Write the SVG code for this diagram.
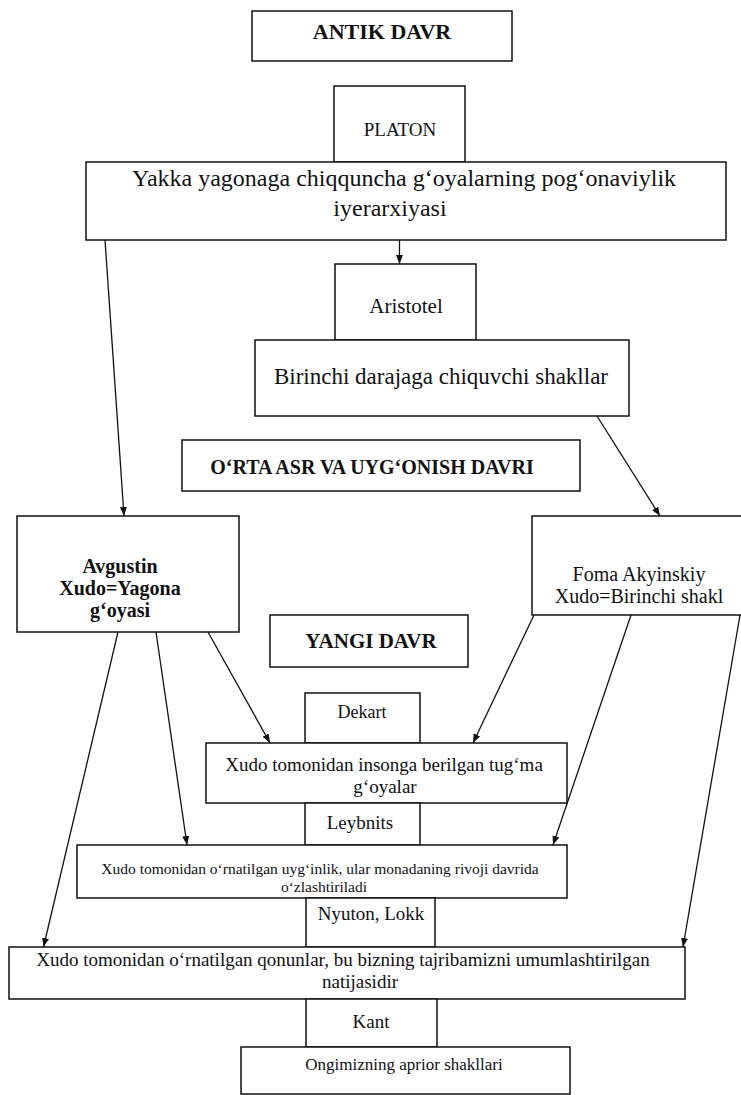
<svg xmlns="http://www.w3.org/2000/svg" width="741" height="1095" viewBox="0 0 741 1095">
<style>
.box{fill:#fff;stroke:#111;stroke-width:1.5}
.t{font-family:"Liberation Serif","Times New Roman",serif;fill:#111;text-anchor:middle}
.b{font-weight:bold}
.conn{stroke:#111;stroke-width:1.3;fill:none;marker-end:url(#ah)}
</style>
<defs>
<marker id="ah" markerUnits="userSpaceOnUse" markerWidth="10" markerHeight="8" refX="9" refY="3.5" orient="auto">
<path d="M0,0 L9,3.5 L0,7 z" fill="#111"/>
</marker>
</defs>
<rect width="741" height="1095" fill="#fff"/>
<g id="antik">
<rect class="box" x="252" y="11" width="260" height="50"/>
<text class="t b" x="382" y="39" font-size="22">ANTIK DAVR</text>
</g>
<g id="platon">
<rect class="box" x="334" y="86" width="131" height="76"/>
<text class="t" x="400" y="136" font-size="19">PLATON</text>
</g>
<g id="yakka">
<rect class="box" x="86" y="162" width="640" height="78"/>
<text class="t" x="404" y="186" font-size="24">Yakka yagonaga chiqquncha g‘oyalarning pog‘onaviylik</text>
<text class="t" x="390" y="216" font-size="24">iyerarxiyasi</text>
</g>
<g id="aristotel">
<rect class="box" x="335" y="264" width="141" height="76"/>
<text class="t" x="406" y="313" font-size="21">Aristotel</text>
</g>
<g id="birinchi">
<rect class="box" x="255" y="340" width="374" height="76"/>
<text class="t" x="441" y="384" font-size="23">Birinchi darajaga chiquvchi shakllar</text>
</g>
<g id="orta">
<rect class="box" x="182" y="440" width="398" height="51"/>
<text class="t b" x="372" y="474" font-size="20">O‘RTA ASR VA UYG‘ONISH DAVRI</text>
</g>
<g id="avgustin">
<rect class="box" x="17" y="516" width="222" height="116"/>
<text class="t b" x="120" y="573" font-size="20">Avgustin</text>
<text class="t b" x="120" y="595" font-size="20">Xudo=Yagona</text>
<text class="t b" x="120" y="617" font-size="20">g‘oyasi</text>
</g>
<g id="foma">
<rect class="box" x="532" y="516" width="212" height="99"/>
<text class="t" x="639" y="581" font-size="20">Foma Akyinskiy</text>
<text class="t" x="639" y="603" font-size="20">Xudo=Birinchi shakl</text>
</g>
<g id="yangi">
<rect class="box" x="270" y="615" width="198" height="52"/>
<text class="t b" x="371" y="648" font-size="21">YANGI DAVR</text>
</g>
<g id="dekart">
<rect class="box" x="305" y="693" width="115" height="50"/>
<text class="t" x="362" y="718" font-size="18">Dekart</text>
</g>
<g id="xudo1">
<rect class="box" x="206" y="743" width="361" height="60"/>
<text class="t" x="384" y="771" font-size="19">Xudo tomonidan insonga berilgan tug‘ma</text>
<text class="t" x="385" y="793" font-size="19">g‘oyalar</text>
</g>
<g id="leybnits">
<rect class="box" x="305" y="803" width="115" height="42"/>
<text class="t" x="360" y="829" font-size="19">Leybnits</text>
</g>
<g id="xudo2">
<rect class="box" x="77" y="845" width="490" height="53"/>
<text class="t" x="320" y="874" font-size="15.5">Xudo tomonidan o‘rnatilgan uyg‘inlik, ular monadaning rivoji davrida</text>
<text class="t" x="324" y="892" font-size="15.5">o‘zlashtiriladi</text>
</g>
<g id="nyuton">
<rect class="box" x="306" y="898" width="129" height="49"/>
<text class="t" x="371" y="920" font-size="19">Nyuton, Lokk</text>
</g>
<g id="xudo3">
<rect class="box" x="9" y="947" width="676" height="52"/>
<text class="t" x="343" y="966" font-size="19">Xudo tomonidan o‘rnatilgan qonunlar, bu bizning tajribamizni umumlashtirilgan</text>
<text class="t" x="360" y="988" font-size="19">natijasidir</text>
</g>
<g id="kant">
<rect class="box" x="306" y="999" width="131" height="48"/>
<text class="t" x="371" y="1028" font-size="19">Kant</text>
</g>
<g id="ongimizning">
<rect class="box" x="241" y="1047" width="329" height="47"/>
<text class="t" x="404" y="1070" font-size="17">Ongimizning aprior shakllari</text>
</g>
<g id="connectors">
<line class="conn" x1="399.5" y1="240" x2="399.5" y2="264"/>
<line class="conn" x1="105" y1="240" x2="124" y2="516"/>
<line class="conn" x1="597" y1="416" x2="660" y2="516"/>
<line class="conn" x1="118" y1="632" x2="43.5" y2="947"/>
<line class="conn" x1="156" y1="632" x2="187" y2="845"/>
<line class="conn" x1="208" y1="632" x2="270" y2="743"/>
<line class="conn" x1="534" y1="615" x2="473" y2="743"/>
<line class="conn" x1="631" y1="615" x2="553" y2="845"/>
<line class="conn" x1="740" y1="615" x2="683" y2="947"/>
</g>
</svg>
